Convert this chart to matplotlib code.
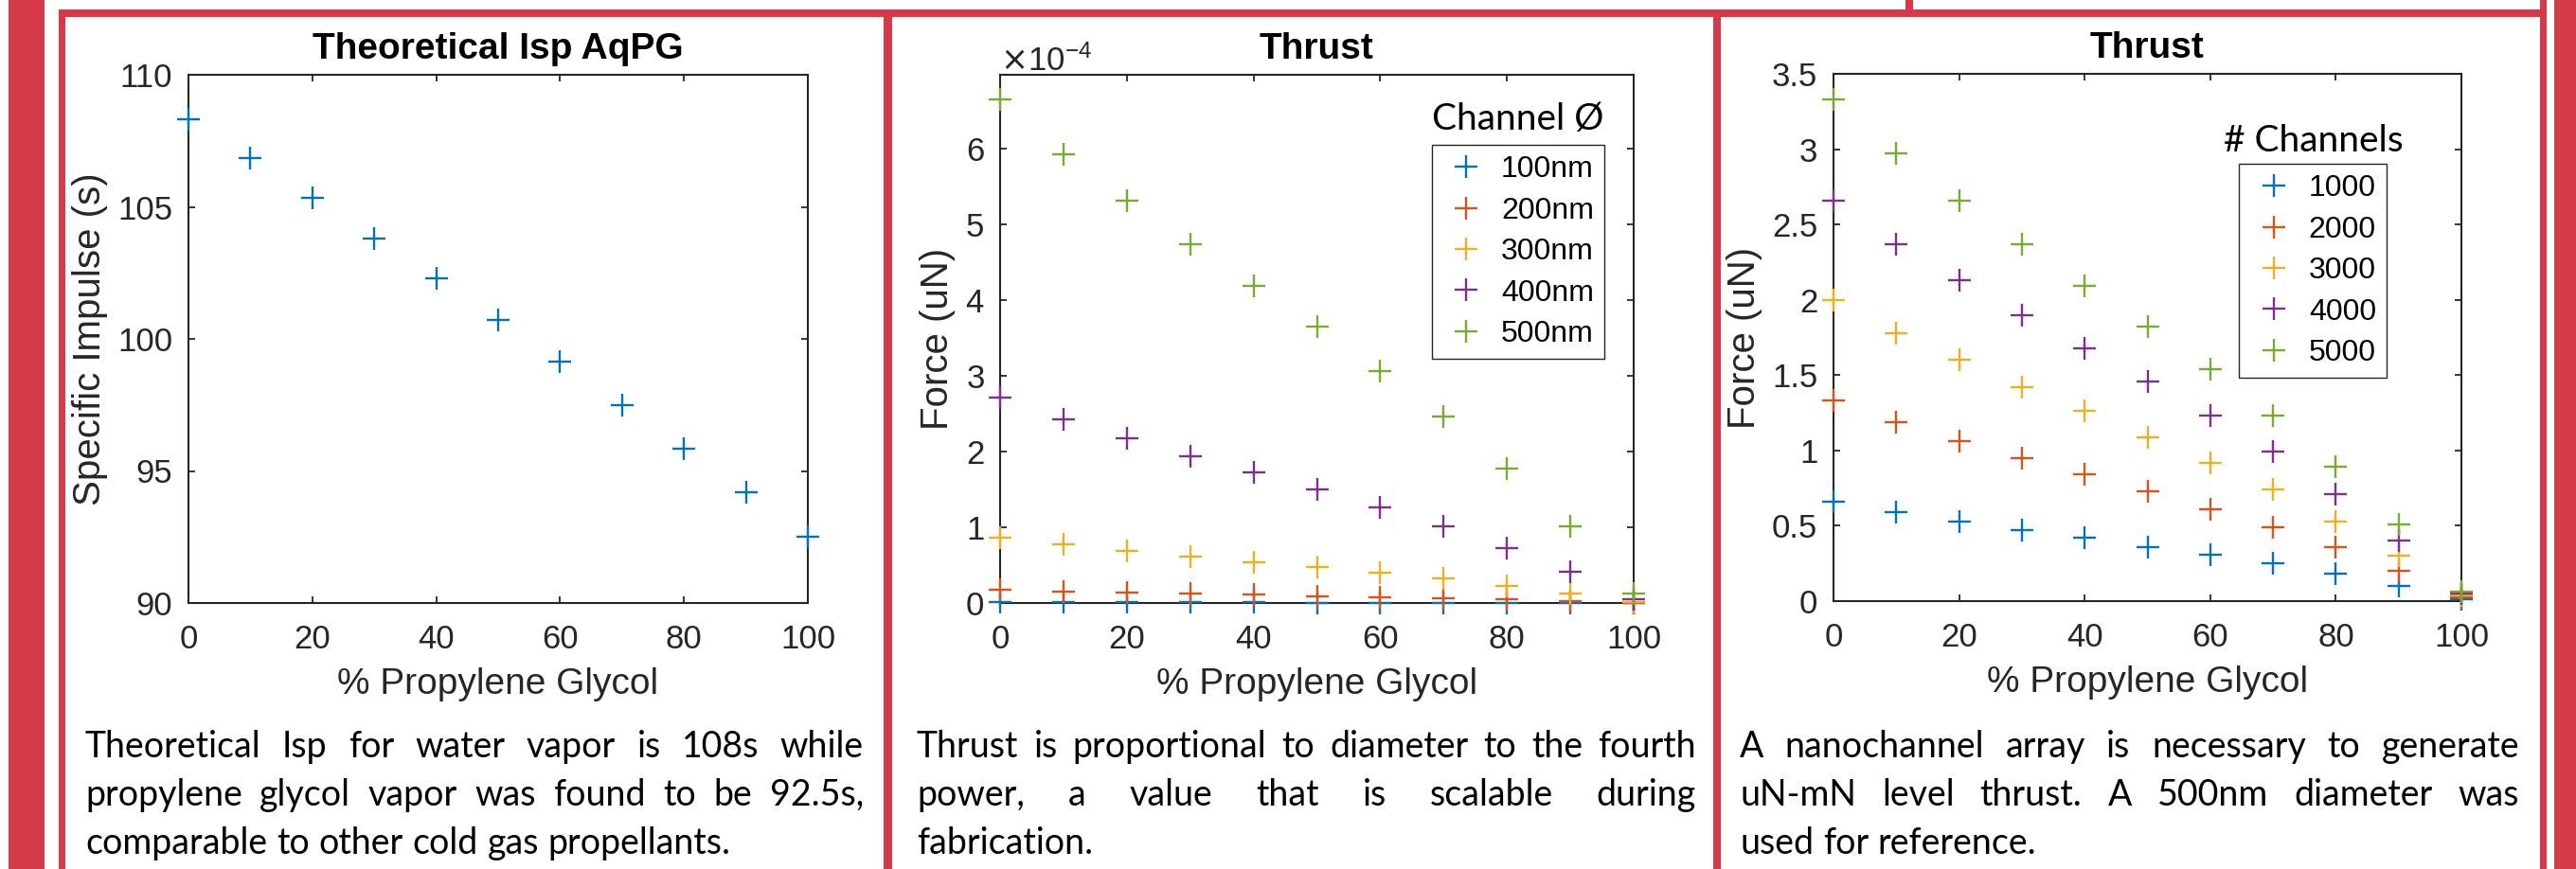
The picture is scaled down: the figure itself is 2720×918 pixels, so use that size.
import matplotlib
matplotlib.use("Agg")
import matplotlib.pyplot as plt
import matplotlib.patches as mpatches
from matplotlib.ticker import ScalarFormatter
import numpy as np

pct_pg = [0, 10, 20, 30, 40, 50, 60, 70, 80, 90, 100]

isp = [108.3, 106.85, 105.35, 103.8, 102.3, 100.7, 99.15, 97.5, 95.85, 94.2, 92.5]

# thrust per single channel, in units of 1e-4 uN
diam_labels = ["100nm", "200nm", "300nm", "400nm", "500nm"]
thrust_100nm = [0.011, 0.0095, 0.0085, 0.0076, 0.0067, 0.0058, 0.0049, 0.0039, 0.0028, 0.0016, 0.0002]
thrust_200nm = [0.17, 0.15, 0.136, 0.121, 0.107, 0.093, 0.079, 0.063, 0.046, 0.026, 0.003]
thrust_300nm = [0.86, 0.77, 0.69, 0.61, 0.54, 0.47, 0.40, 0.32, 0.23, 0.13, 0.016]
thrust_400nm = [2.72, 2.43, 2.18, 1.94, 1.72, 1.50, 1.26, 1.01, 0.73, 0.41, 0.05]
thrust_500nm = [6.65, 5.93, 5.32, 4.74, 4.19, 3.65, 3.07, 2.46, 1.78, 1.01, 0.12]

# thrust of a 500nm array, uN
count_labels = ["1000", "2000", "3000", "4000", "5000"]
array_1000 = [0.66, 0.59, 0.53, 0.47, 0.42, 0.36, 0.31, 0.25, 0.18, 0.10, 0.012]
array_2000 = [1.33, 1.19, 1.06, 0.95, 0.84, 0.73, 0.61, 0.49, 0.36, 0.20, 0.025]
array_3000 = [2.00, 1.78, 1.60, 1.42, 1.26, 1.09, 0.92, 0.74, 0.53, 0.30, 0.04]
array_4000 = [2.66, 2.37, 2.13, 1.90, 1.68, 1.46, 1.23, 0.99, 0.71, 0.40, 0.05]
array_5000 = [3.33, 2.97, 2.66, 2.37, 2.09, 1.82, 1.54, 1.23, 0.89, 0.51, 0.06]

isp_yticks = [90, 95, 100, 105, 110]
thrust_yticks = [0, 1, 2, 3, 4, 5, 6]
array_yticks = [0, 0.5, 1, 1.5, 2, 2.5, 3, 3.5]
xticks = [0, 20, 40, 60, 80, 100]

captions = [
    ["Theoretical Isp for water vapor is 108s while",
     "propylene glycol vapor was found to be 92.5s,",
     "comparable to other cold gas propellants."],
    ["Thrust is proportional to diameter to the fourth",
     "power, a value that is scalable during",
     "fabrication."],
    ["A nanochannel array is necessary to generate",
     "uN-mN level thrust. A 500nm diameter was",
     "used for reference."],
]

# --- style ---
W, H = 2720, 918
RED = "#D43A4A"
INK = "#262626"
mcolors = ["#0072BD", "#D95319", "#EDB120", "#7E2F8E", "#77AC30"]

plt.rcParams["font.family"] = ["Liberation Sans", "DejaVu Sans"]
plt.rcParams["axes.unicode_minus"] = False

fig = plt.figure(figsize=(W / 100, H / 100), dpi=100)


def px_axes(x0, y0, x1, y1):
    return fig.add_axes([x0 / W, 1 - y1 / H, (x1 - x0) / W, (y1 - y0) / H])


def red_rect(x0, y0, x1, y1):
    fig.add_artist(mpatches.Rectangle((x0 / W, 1 - y1 / H), (x1 - x0) / W, (y1 - y0) / H,
                                      transform=fig.transFigure, facecolor=RED,
                                      edgecolor="none", zorder=10))


def style(ax, title):
    for sp in ax.spines.values():
        sp.set_linewidth(1.5)
        sp.set_color(INK)
    ax.tick_params(direction="in", length=5, width=1.3, top=True, right=True,
                   labelsize=25, colors=INK, pad=12)
    ax.tick_params(axis="x", pad=16)
    ax.set_title(title, fontsize=28, fontweight="bold", pad=12)
    ax.set_xlim(0, 100)
    ax.set_xticks(xticks)
    ax.set_xlabel("% Propylene Glycol", fontsize=28, color=INK, labelpad=9)


def plus(ax, x, y, c, label=None):
    ax.plot(x, y, "+", ms=17, mew=1.7, color=c, clip_on=False, label=label, zorder=3)


def add_legend(ax, anchor):
    leg = ax.legend(loc="upper right", bbox_to_anchor=anchor, fontsize=23,
                    frameon=True, fancybox=False, edgecolor=INK, framealpha=1,
                    borderpad=0.35, handlelength=1.6, handletextpad=0.35,
                    labelspacing=0.42, borderaxespad=0)
    leg.get_frame().set_linewidth(1.0)


# panel 1
ax1 = px_axes(199, 79, 853, 637)
plus(ax1, pct_pg, isp, mcolors[0])
ax1.set_ylim(90, 110)
ax1.set_yticks(isp_yticks)
style(ax1, "Theoretical Isp AqPG")
ax1.set_ylabel("Specific Impulse (s)", fontsize=29, color=INK, labelpad=7)

# panel 2
ax2 = px_axes(1056, 79, 1725, 637)
for vals, c, lab in zip([thrust_100nm, thrust_200nm, thrust_300nm, thrust_400nm, thrust_500nm],
                        mcolors, diam_labels):
    plus(ax2, pct_pg, np.array(vals) * 1e-4, c, lab)
ax2.set_ylim(0, 6.98e-4)
ax2.set_yticks(np.array(thrust_yticks) * 1e-4)
fmt = ScalarFormatter(useMathText=True)
fmt.set_powerlimits((-3, 3))
ax2.yaxis.set_major_formatter(fmt)
style(ax2, "Thrust")
ax2.yaxis.offsetText.set_fontsize(25)
ax2.yaxis.offsetText.set_color(INK)
ax2.set_ylabel("Force (uN)", fontsize=29, color=INK, labelpad=7)
add_legend(ax2, (0.954, 0.867))
ax2.text(0.818, 0.896, "Channel Ø", transform=ax2.transAxes, ha="center",
         va="baseline", fontsize=28, family="Lato")

# panel 3
ax3 = px_axes(1936, 78, 2599, 635)
for vals, c, lab in zip([array_1000, array_2000, array_3000, array_4000, array_5000],
                        mcolors, count_labels):
    plus(ax3, pct_pg, vals, c, lab)
ax3.set_ylim(0, 3.5)
ax3.set_yticks(array_yticks)
ax3.set_yticklabels(["%g" % v for v in array_yticks])
style(ax3, "Thrust")
ax3.set_ylabel("Force (uN)", fontsize=29, color=INK, labelpad=7)
add_legend(ax3, (0.881, 0.829))
ax3.text(0.765, 0.853, "# Channels", transform=ax3.transAxes, ha="center",
         va="baseline", fontsize=28, family="Lato")

# poster frame
red_rect(9, 0, 47, H)
red_rect(2697, 0, W, H)
red_rect(62, 10, 2689, 18)
red_rect(62, 10, 69, H)
red_rect(933, 10, 942, H)
red_rect(1809, 10, 1817, H)
red_rect(2682, 0, 2689, H)
red_rect(2012, 0, 2020, 18)

# justified captions
renderer = fig.canvas.get_renderer()
cap_x = [(90, 912), (968, 1791), (1837, 2660)]
cap_base = [800, 851, 902]
cap_size = 27
for lines, (x0, x1) in zip(captions, cap_x):
    for i, (line, yb) in enumerate(zip(lines, cap_base)):
        words = line.split()
        items = [fig.text(0, 1 - yb / H, w, fontsize=cap_size, family="Lato",
                          va="baseline", ha="left") for w in words]
        widths = [t.get_window_extent(renderer).width for t in items]
        if i == len(lines) - 1:
            gap = cap_size * 100 / 72 * 0.26
        else:
            gap = (x1 - x0 - sum(widths)) / (len(words) - 1)
        x = x0
        for t, w in zip(items, widths):
            t.set_x(x / W)
            x += w + gap

fig.savefig("out.png", dpi=100)
